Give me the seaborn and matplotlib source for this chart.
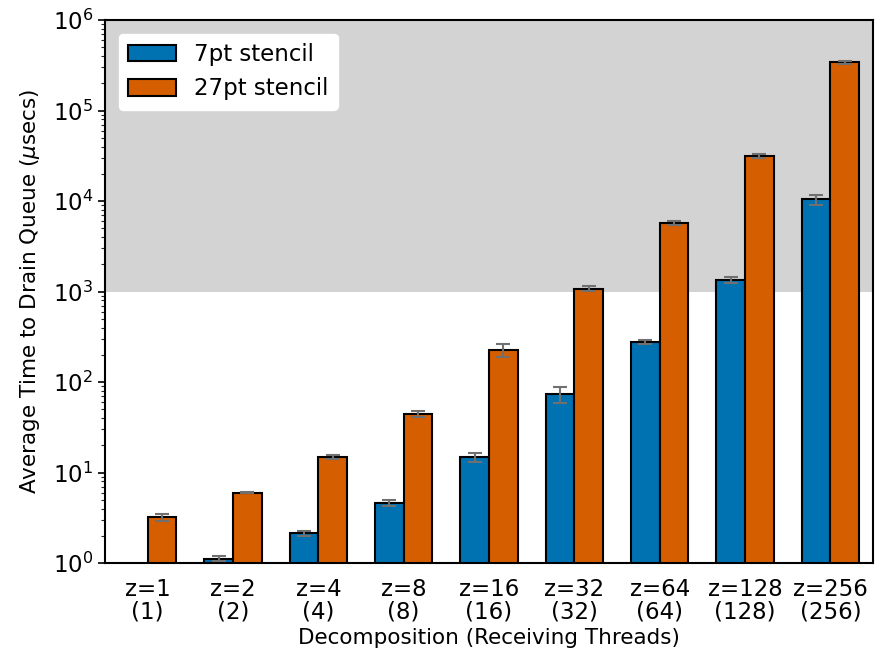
import numpy as np
import pandas as pd
import matplotlib
matplotlib.use("Agg")
import matplotlib.pyplot as plt
import seaborn as sns

# Decomposition labels (z-slabs / receiving threads)
categories = ["z=1\n(1)", "z=2\n(2)", "z=4\n(4)", "z=8\n(8)", "z=16\n(16)",
              "z=32\n(32)", "z=64\n(64)", "z=128\n(128)", "z=256\n(256)"]
series_names = ["7pt stencil", "27pt stencil"]

# Mean drain time (usecs) and error
mean_7pt = [np.nan, 1.12, 2.13, 4.6, 14.8, 74, 279, 1340, 10400]
err_7pt = [np.nan, 0.08, 0.15, 0.33, 1.6, 15, 16, 90, 1350]
mean_27pt = [3.2, 6.0, 14.8, 44.3, 227, 1075, 5750, 31700, 341000]
err_27pt = [0.26, 0.1, 0.7, 3.0, 36, 70, 330, 1700, 16000]

colors = ["#0072B2", "#D55E00"]

df = pd.DataFrame({
    "decomp": categories * 2,
    "stencil": [series_names[0]] * len(categories) + [series_names[1]] * len(categories),
    "time": mean_7pt + mean_27pt,
    "err": err_7pt + err_27pt,
})

sns.set_theme(style="ticks")
plt.rcParams["font.family"] = ["DejaVu Sans"]
plt.rcParams["xtick.direction"] = "out"
plt.rcParams["ytick.direction"] = "out"
plt.rcParams["text.color"] = "black"
plt.rcParams["axes.labelcolor"] = "black"

fig = plt.figure(figsize=(8.78, 6.5), dpi=100)
ax = fig.add_axes([0.1196, 0.1338, 0.8747, 0.8354])

# shaded region above 1 ms
ax.axhspan(1e3, 1e6, color="#d3d3d3", zorder=0, lw=0)

sns.barplot(data=df, x="decomp", y="time", hue="stencil", order=categories,
            hue_order=series_names, palette=colors, errorbar=None,
            width=0.67, gap=0, edgecolor="black", linewidth=1.5,
            saturation=1, ax=ax, zorder=2)

ax.set_yscale("log")
ax.set_ylim(1, 1e6)
ax.set_xlim(-0.5, len(categories) - 0.5)

# error bars placed at the centres of the drawn bars
for cont, name in zip(ax.containers, series_names):
    sub = df[(df["stencil"] == name) & df["time"].notna()]
    for bar, (_, row) in zip(cont, sub.iterrows()):
        cx = bar.get_x() + bar.get_width() / 2
        ax.errorbar(cx, row["time"], yerr=row["err"], fmt="none",
                    ecolor="#707070", elinewidth=1.5, capsize=5,
                    capthick=1.5, zorder=3)

ax.set_xlabel("Decomposition (Receiving Threads)", fontsize=15.5, labelpad=3,
              color="black")
ax.set_ylabel(r"Average Time to Drain Queue ($\mu$secs)", fontsize=15.5,
              labelpad=8, color="black")
ax.tick_params(axis="both", labelsize=16.5, colors="black")
ax.tick_params(axis="x", length=0, pad=11)
for lbl in ax.get_xticklabels():
    lbl.set_linespacing(0.95)
ax.tick_params(axis="y", which="major", length=5, width=1.2)
ax.tick_params(axis="y", which="minor", length=3, width=0.8)
for s in ax.spines.values():
    s.set_visible(True)
    s.set_color("black")
    s.set_linewidth(1.5)

leg = ax.legend(loc="upper left", fontsize=16.5, frameon=True, framealpha=1,
                edgecolor="white", fancybox=True, handlelength=2.1,
                handleheight=0.75, borderaxespad=0.6)
leg.set_title(None)
for t in leg.get_texts():
    t.set_color("black")

fig.savefig("out.png", dpi=100)
